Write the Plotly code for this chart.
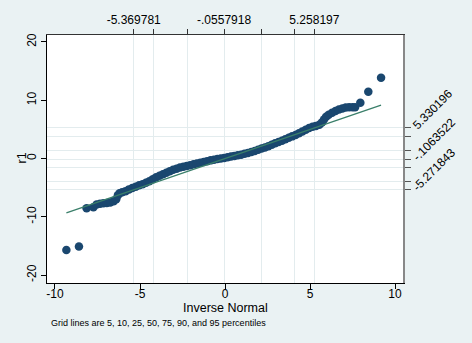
import plotly.graph_objects as go

# Inverse-normal quantiles (x) and sorted r1 values (y)
inv_normal = [-9.33, -8.59, -8.14, -7.74, -7.55, -7.35, -7.15, -6.95, -6.75, -6.55,
              -6.40, -6.30, -6.20, -6.05, -5.85, -5.65, -5.45, -5.25, -5.05, -4.85,
              -4.65, -4.45, -4.25, -4.05, -3.85, -3.65, -3.45, -3.25, -3.05, -2.85,
              -2.65, -2.45, -2.25, -2.05, -1.85, -1.65, -1.45, -1.25, -1.05, -0.85,
              -0.65, -0.45, -0.25, -0.05, 0.15, 0.35, 0.55, 0.75, 0.95, 1.15,
              1.35, 1.55, 1.75, 1.95, 2.15, 2.35, 2.55, 2.75, 2.95, 3.15,
              3.35, 3.55, 3.75, 3.95, 4.15, 4.35, 4.55, 4.75, 4.95, 5.15,
              5.35, 5.55, 5.70, 5.82, 5.95, 6.10, 6.30, 6.50, 6.70, 6.90,
              7.10, 7.30, 7.50, 7.65, 7.96, 8.43, 9.18]
r1_sorted = [-15.7, -15.1, -8.55, -8.35, -7.9, -7.75, -7.7, -7.65, -7.55, -7.35,
             -7.0, -6.3, -5.95, -5.8, -5.6, -5.3, -5.05, -4.85, -4.6, -4.4,
             -4.15, -3.9, -3.55, -3.2, -2.95, -2.7, -2.45, -2.2, -1.95, -1.75,
             -1.55, -1.42, -1.3, -1.15, -1.0, -0.85, -0.72, -0.6, -0.45, -0.32,
             -0.2, -0.08, 0.0, 0.1, 0.22, 0.33, 0.45, 0.55, 0.65, 0.8,
             0.95, 1.1, 1.3, 1.5, 1.7, 1.9, 2.1, 2.35, 2.6, 2.85,
             3.05, 3.3, 3.55, 3.8, 4.05, 4.35, 4.65, 4.95, 5.25, 5.45,
             5.6, 5.8, 6.2, 6.7, 7.15, 7.5, 7.85, 8.15, 8.4, 8.6,
             8.75, 8.8, 8.8, 8.8, 9.58, 11.46, 13.86]

# reference line y = x, from min to max inverse normal
ref_line = [-9.33, 9.18]

# percentile grid lines (5,10,25,50,75,90,95)
x_pct = [-5.369781, -4.196, -2.235, -0.0557918, 2.123, 4.084, 5.258197]
x_pct_labels = ["-5.369781", "", "", "-.0557918", "", "", "5.258197"]
y_pct = [-5.271843, -4.03, -1.51, -0.1063522, 1.41, 3.74, 5.330196]
y_pct_labels = ["-5.271843", "", "", "-.1063522", "", "", "5.330196"]

x_ticks = [-10, -5, 0, 5, 10]
x_tick_labels = ["-10", "-5", "0", "5", "10"]
y_ticks = [-20, -10, 0, 10, 20]
y_tick_labels = ["-20", "-10", "0", "10", "20"]

x_title = "Inverse Normal"
y_title = "r1"
note = "Grid lines are 5, 10, 25, 50, 75, 90, and 95 percentiles"

navy = "#1a476f"
green = "#3a7f6a"
bg = "#EAF2F3"
font = "Liberation Sans, Arial, sans-serif"

fig = go.Figure()
fig.add_trace(go.Scatter(x=inv_normal, y=r1_sorted, mode="markers",
                         marker=dict(color=navy, size=8.5, line=dict(width=0)),
                         showlegend=False, hoverinfo="skip"))
fig.add_trace(go.Scatter(x=ref_line, y=ref_line, mode="lines",
                         line=dict(color=green, width=1.3),
                         showlegend=False, hoverinfo="skip"))
# invisible trace to activate secondary axes
fig.add_trace(go.Scatter(x=[0], y=[0], xaxis="x2", yaxis="y2", mode="markers",
                         marker=dict(opacity=0), showlegend=False, hoverinfo="skip"))

xr = [-10.47, 10.47]
yr = [-21.37, 21.2]

fig.update_layout(
    width=472, height=343,
    margin=dict(l=47, r=69, t=35, b=60, autoexpand=False),
    paper_bgcolor=bg, plot_bgcolor="white",
    font=dict(family=font, size=12, color="black"),
    xaxis=dict(range=xr, tickvals=x_ticks, ticktext=x_tick_labels,
               ticks="outside", ticklen=5, automargin=False, ticklabelstandoff=-5,
               tickcolor="black", showgrid=False, zeroline=False,
               showline=True, linecolor="black", linewidth=1),
    yaxis=dict(range=yr, tickvals=y_ticks, ticktext=y_tick_labels,
               ticks="outside", ticklen=5, automargin=False,
               tickcolor="black", tickangle=-90, showgrid=False, zeroline=False,
               showline=True, linecolor="black", linewidth=1),
    xaxis2=dict(range=xr, overlaying="x", side="top", tickvals=x_pct,
                ticktext=x_pct_labels, ticks="outside", ticklen=5, automargin=False,
                tickcolor="#333", showgrid=True, gridcolor="#E3ECEE", gridwidth=1,
                zeroline=False, showline=True, linecolor="#333", linewidth=1),
    yaxis2=dict(range=yr, overlaying="y", side="right", tickvals=y_pct,
                ticktext=y_pct_labels, ticks="outside", ticklen=6, automargin=False,
                tickcolor="#555", tickangle=-45, showgrid=True,
                gridcolor="#E3ECEE", gridwidth=1, zeroline=False,
                showline=True, linecolor="#888", linewidth=2),
    annotations=[
        dict(text=x_title, xref="paper", yref="paper", x=0.5, y=-0.102,
             xanchor="center", yanchor="middle", showarrow=False,
             font=dict(size=12.5, family=font)),
        dict(text=y_title, xref="paper", yref="paper", x=-0.073, y=0.502,
             xanchor="center", yanchor="middle", showarrow=False, textangle=-90,
             font=dict(size=12.5, family=font)),
        dict(text=note, xref="paper", yref="paper", x=0.006, y=-0.162,
             xanchor="left", yanchor="middle", showarrow=False,
             font=dict(size=9, family=font)),
    ],
)

fig.update_layout(xaxis2_layer="below traces", yaxis2_layer="below traces")

fig.write_html("out.html", config={"displayModeBar": False},
               post_script="document.body.style.margin='0px';")
